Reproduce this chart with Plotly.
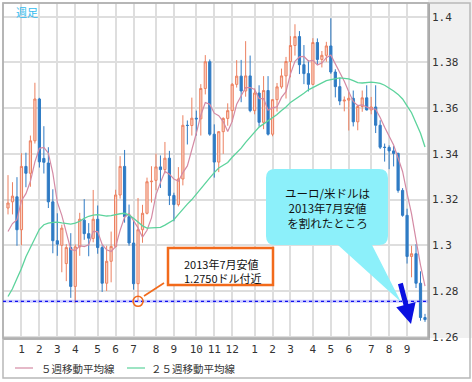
import plotly.graph_objects as go

# ---------------- data (weekly EUR/USD, Dec 2012 - Sep 2014) ----------------
week_idx = list(range(94))
opens = [1.3163, 1.3190, 1.3212, 1.3068, 1.3345, 1.3315, 1.3457, 1.3640, 1.3380, 1.3360,
         1.3190, 1.3020, 1.3000, 1.2920, 1.2990, 1.2820, 1.2993, 1.3110, 1.3051, 1.3030,
         1.3114, 1.2990, 1.2834, 1.2930, 1.2995, 1.3220, 1.3345, 1.3125, 1.3010, 1.2832,
         1.3068, 1.3140, 1.3278, 1.3284, 1.3343, 1.3331, 1.3381, 1.3218, 1.3178, 1.3290,
         1.3525, 1.3524, 1.3556, 1.3553, 1.3686, 1.3803, 1.3486, 1.3364, 1.3497, 1.3555,
         1.3589, 1.3704, 1.3740, 1.3675, 1.3741, 1.3589, 1.3666, 1.3538, 1.3677, 1.3486,
         1.3637, 1.3693, 1.3741, 1.3804, 1.3874, 1.3913, 1.3790, 1.3751, 1.3704, 1.3887,
         1.3813, 1.3831, 1.3872, 1.3758, 1.3694, 1.3631, 1.3635, 1.3643, 1.3540, 1.3607,
         1.3645, 1.3592, 1.3605, 1.3525, 1.3429, 1.3428, 1.3413, 1.3402, 1.3240, 1.3131,
         1.2951, 1.2963, 1.2834, 1.2684]
highs = [1.3307, 1.3276, 1.3298, 1.3403, 1.3405, 1.3480, 1.3711, 1.3645, 1.3521, 1.3429,
         1.3245, 1.3140, 1.3090, 1.3005, 1.3053, 1.3004, 1.3142, 1.3202, 1.3097, 1.3242,
         1.3174, 1.3000, 1.2998, 1.3060, 1.3243, 1.3390, 1.3417, 1.3178, 1.3110, 1.3207,
         1.3177, 1.3296, 1.3346, 1.3401, 1.3393, 1.3452, 1.3413, 1.3230, 1.3342, 1.3569,
         1.3546, 1.3646, 1.3589, 1.3705, 1.3832, 1.3813, 1.3529, 1.3500, 1.3560, 1.3621,
         1.3710, 1.3810, 1.3811, 1.3893, 1.3830, 1.3686, 1.3700, 1.3740, 1.3740, 1.3640,
         1.3710, 1.3773, 1.3824, 1.3915, 1.3967, 1.3937, 1.3876, 1.3810, 1.3906, 1.3905,
         1.3850, 1.3890, 1.3993, 1.3770, 1.3733, 1.3651, 1.3670, 1.3677, 1.3615, 1.3677,
         1.3700, 1.3649, 1.3700, 1.3547, 1.3445, 1.3437, 1.3434, 1.3405, 1.3250, 1.3160,
         1.2998, 1.3005, 1.2886, 1.2700]
lows = [1.3135, 1.3135, 1.2998, 1.3000, 1.3254, 1.3256, 1.3445, 1.3340, 1.3314, 1.3163,
        1.2965, 1.2954, 1.2882, 1.2843, 1.2770, 1.2748, 1.2954, 1.3024, 1.2952, 1.3013,
        1.2963, 1.2796, 1.2800, 1.2838, 1.2990, 1.3204, 1.3099, 1.2998, 1.2806, 1.2755,
        1.3011, 1.3135, 1.3187, 1.3241, 1.3251, 1.3314, 1.3176, 1.3105, 1.3170, 1.3262,
        1.3441, 1.3480, 1.3480, 1.3480, 1.3660, 1.3479, 1.3296, 1.3320, 1.3400, 1.3523,
        1.3540, 1.3690, 1.3626, 1.3650, 1.3582, 1.3573, 1.3519, 1.3508, 1.3480, 1.3477,
        1.3585, 1.3685, 1.3642, 1.3735, 1.3830, 1.3749, 1.3705, 1.3673, 1.3701, 1.3790,
        1.3778, 1.3803, 1.3750, 1.3647, 1.3613, 1.3586, 1.3502, 1.3520, 1.3503, 1.3584,
        1.3590, 1.3573, 1.3491, 1.3421, 1.3366, 1.3333, 1.3345, 1.3230, 1.3125, 1.2920,
        1.2860, 1.2813, 1.2670, 1.2665]
closes = [1.3185, 1.3215, 1.3068, 1.3345, 1.3315, 1.3457, 1.3640, 1.3365, 1.3363, 1.3190,
          1.3020, 1.3005, 1.3075, 1.2990, 1.2820, 1.2993, 1.3114, 1.3051, 1.3031, 1.3114,
          1.2990, 1.2834, 1.2930, 1.2995, 1.3220, 1.3345, 1.3125, 1.3010, 1.2832, 1.3068,
          1.3140, 1.3278, 1.3280, 1.3343, 1.3331, 1.3381, 1.3218, 1.3178, 1.3290, 1.3525,
          1.3524, 1.3556, 1.3553, 1.3686, 1.3803, 1.3486, 1.3364, 1.3497, 1.3555, 1.3589,
          1.3704, 1.3740, 1.3675, 1.3741, 1.3589, 1.3666, 1.3538, 1.3677, 1.3486, 1.3637,
          1.3693, 1.3741, 1.3804, 1.3874, 1.3913, 1.3790, 1.3751, 1.3704, 1.3887, 1.3813,
          1.3831, 1.3872, 1.3758, 1.3694, 1.3631, 1.3635, 1.3643, 1.3540, 1.3607, 1.3645,
          1.3592, 1.3605, 1.3525, 1.3429, 1.3428, 1.3413, 1.3402, 1.3240, 1.3131, 1.2951,
          1.2963, 1.2834, 1.2684, 1.2675]
ma5 = [1.3060, 1.3095, 1.3112, 1.3195, 1.3226, 1.3280, 1.3365, 1.3424, 1.3428, 1.3403,
       1.3316, 1.3189, 1.3131, 1.3056, 1.2982, 1.2977, 1.2998, 1.2994, 1.3002, 1.3061,
       1.3060, 1.3004, 1.2980, 1.2973, 1.2994, 1.3065, 1.3123, 1.3139, 1.3106, 1.3076,
       1.3035, 1.3066, 1.3120, 1.3222, 1.3274, 1.3323, 1.3311, 1.3290, 1.3280, 1.3318,
       1.3347, 1.3415, 1.3490, 1.3569, 1.3624, 1.3617, 1.3578, 1.3567, 1.3541, 1.3498,
       1.3542, 1.3617, 1.3653, 1.3690, 1.3690, 1.3682, 1.3642, 1.3642, 1.3591, 1.3601,
       1.3606, 1.3647, 1.3672, 1.3750, 1.3805, 1.3824, 1.3826, 1.3806, 1.3809, 1.3789,
       1.3797, 1.3821, 1.3832, 1.3794, 1.3757, 1.3718, 1.3672, 1.3629, 1.3611, 1.3614,
       1.3605, 1.3598, 1.3595, 1.3559, 1.3516, 1.3480, 1.3439, 1.3382, 1.3323, 1.3227,
       1.3137, 1.3024, 1.2913, 1.2821]
ma25 = [1.2776, 1.2810, 1.2855, 1.2898, 1.2950, 1.2990, 1.3035, 1.3070, 1.3090, 1.3097,
        1.3100, 1.3101, 1.3098, 1.3095, 1.3093, 1.3097, 1.3105, 1.3118, 1.3127, 1.3132,
        1.3134, 1.3131, 1.3128, 1.3130, 1.3135, 1.3138, 1.3140, 1.3132, 1.3118, 1.3102,
        1.3085, 1.3075, 1.3075, 1.3076, 1.3078, 1.3088, 1.3100, 1.3112, 1.3135, 1.3160,
        1.3180, 1.3200, 1.3225, 1.3250, 1.3275, 1.3295, 1.3318, 1.3338, 1.3350, 1.3362,
        1.3385, 1.3405, 1.3425, 1.3450, 1.3475, 1.3495, 1.3517, 1.3530, 1.3545, 1.3556,
        1.3572, 1.3590, 1.3605, 1.3625, 1.3638, 1.3650, 1.3665, 1.3680, 1.3690, 1.3700,
        1.3710, 1.3720, 1.3725, 1.3730, 1.3732, 1.3730, 1.3728, 1.3720, 1.3712, 1.3710,
        1.3713, 1.3714, 1.3712, 1.3708, 1.3700, 1.3688, 1.3675, 1.3660, 1.3640, 1.3610,
        1.3580, 1.3535, 1.3490, 1.3430]
month_tick_idx = [3, 7, 11, 15, 20, 24, 28, 33, 37, 42, 46, 50, 55, 59, 63, 68, 72, 76, 81, 85, 89]
month_tick_labels = ["1", "2", "3", "4", "5", "6", "7", "8", "9", "10", "11", "12",
                     "1", "2", "3", "4", "5", "6", "7", "8", "9"]
price_ticks = [1.26, 1.28, 1.30, 1.32, 1.34, 1.36, 1.38, 1.40]
price_tick_labels = ["1.26", "1.28", "1.3", "1.32", "1.34", "1.36", "1.38", "1.4"]
july2013_low_idx = 29
july2013_low = 1.2755

# ---------------- layout helpers (pixel -> paper) ----------------
W, H = 472, 382
L, R, T, B = 3, 428, 3, 338


def px(x):
    return (x - L) / (R - L)


def py(y):
    return (B - y) / (B - T)


JP = "Noto Sans CJK JP"

fig = go.Figure()

fig.add_trace(go.Candlestick(
    x=week_idx, open=opens, high=highs, low=lows, close=closes,
    increasing=dict(line=dict(color="#ec8060", width=1), fillcolor="#f9d2c4"),
    decreasing=dict(line=dict(color="#2f7bc4", width=1), fillcolor="#2f7bc4"),
    whiskerwidth=0, showlegend=False, hoverinfo="skip"))
fig.add_trace(go.Scatter(x=week_idx, y=ma5, mode="lines",
                         line=dict(color="#d48aa4", width=1.2), showlegend=False, hoverinfo="skip"))
fig.add_trace(go.Scatter(x=week_idx, y=ma25, mode="lines",
                         line=dict(color="#5cd39c", width=1.3), showlegend=False, hoverinfo="skip"))

shapes = []
# right column background
shapes.append(dict(type="rect", xref="paper", yref="paper", x0=px(428), x1=px(472), y0=py(338), y1=py(0),
                   fillcolor="#f0f0f0", line=dict(width=0), layer="below"))
# outer frame
shapes.append(dict(type="rect", xref="paper", yref="paper", x0=px(3), x1=px(470), y0=py(378), y1=py(3),
                   line=dict(color="#b8b8b8", width=1.5), fillcolor="rgba(0,0,0,0)", layer="above"))
# plot frame
shapes.append(dict(type="rect", xref="paper", yref="paper", x0=0, x1=1, y0=0, y1=1,
                   line=dict(color="#b0b0b0", width=1.5), fillcolor="rgba(0,0,0,0)", layer="above"))
# July 2013 low level
shapes.append(dict(type="line", xref="paper", yref="y", x0=0, x1=1, y0=july2013_low, y1=july2013_low,
                   line=dict(color="rgba(110,110,255,0.35)", width=3), layer="above"))
shapes.append(dict(type="line", xref="paper", yref="y", x0=0, x1=1, y0=july2013_low, y1=july2013_low,
                   line=dict(color="#1010ee", width=1.2, dash="dot"), layer="above"))
# orange circle at the low
shapes.append(dict(type="circle", xref="x", yref="y", xsizemode="pixel", ysizemode="pixel",
                   xanchor=july2013_low_idx, yanchor=july2013_low, x0=-5, x1=5, y0=-5, y1=5,
                   line=dict(color="#f26a1b", width=1.6), fillcolor="rgba(0,0,0,0)", layer="above"))
# connector
shapes.append(dict(type="line", xref="paper", yref="paper", x0=px(144), y0=py(296), x1=px(164), y1=py(283),
                   line=dict(color="#f26a1b", width=1.6), layer="above"))
# orange box
shapes.append(dict(type="rect", xref="paper", yref="paper", x0=px(168), x1=px(273), y0=py(285), y1=py(248),
                   line=dict(color="#f26a1b", width=2.5), fillcolor="white", layer="above"))

# cyan speech bubble
bx0, bx1, by0, by1, r = 266, 388, 169, 245, 9
pts = [
    ("M", bx0 + r, by0), ("L", bx1 - r, by0), ("Q", bx1, by0, bx1, by0 + r),
    ("L", bx1, by1 - r), ("Q", bx1, by1, bx1 - r, by1),
    ("L", 372, by1), ("L", 401, 302), ("L", 338, by1),
    ("L", bx0 + r, by1), ("Q", bx0, by1, bx0, by1 - r),
    ("L", bx0, by0 + r), ("Q", bx0, by0, bx0 + r, by0),
]
path = ""
for p in pts:
    cmd = p[0]
    coords = p[1:]
    segs = []
    for i in range(0, len(coords), 2):
        segs.append(f"{px(coords[i]):.5f},{py(coords[i + 1]):.5f}")
    path += cmd + " " + " ".join(segs) + " "
path += "Z"
shapes.append(dict(type="path", xref="paper", yref="paper", path=path,
                   fillcolor="#8cf0fa", line=dict(width=0), layer="above"))

# legend samples
shapes.append(dict(type="line", xref="paper", yref="paper", x0=px(15), x1=px(33), y0=py(368), y1=py(368),
                   line=dict(color="#d48aa4", width=1.2)))
shapes.append(dict(type="line", xref="paper", yref="paper", x0=px(127), x1=px(145), y0=py(368), y1=py(368),
                   line=dict(color="#5cd39c", width=1.2)))

annotations = []


def txt(x, y, s, size=11.5, color="#111", anchor="center", family=JP, align="center"):
    annotations.append(dict(xref="paper", yref="paper", x=px(x), y=py(y), text=s, showarrow=False,
                            xanchor=anchor, yanchor="middle", align=align,
                            font=dict(family=family, size=size, color=color)))


txt(14, 12, "週足", size=11, color="#33bbee", anchor="left")
txt(182, 271, "2013年7月安値<br>1.2750ドル付近", size=11, anchor="left", align="left")
txt(327, 208, "ユーロ/米ドルは<br>2013年7月安値<br>を割れたところ", size=11.5)
txt(39, 368, "５週移動平均線", size=10.5, color="#333", anchor="left")
txt(149, 368, "２５週移動平均線", size=10.5, color="#333", anchor="left")

# blue arrow
annotations.append(dict(xref="paper", yref="paper", x=px(411), y=py(324), ax=-11, ay=-42,
                        axref="pixel", ayref="pixel", text="", showarrow=True,
                        arrowhead=2, arrowsize=0.8, arrowwidth=5, arrowcolor="#0a10e0"))

fig.update_layout(
    width=W, height=H,
    margin=dict(l=L, r=W - R, t=T, b=H - B, pad=0),
    paper_bgcolor="white", plot_bgcolor="white",
    shapes=shapes, annotations=annotations,
    showlegend=False,
    xaxis=dict(range=[-1.115, 93.67], tickmode="array", tickvals=month_tick_idx, ticktext=month_tick_labels,
               showgrid=True, gridcolor="#dedede", gridwidth=1.5, zeroline=False,
               showline=True, linecolor="#b4b4b4", linewidth=2, ticks="",
               tickfont=dict(family="DejaVu Sans Mono", size=11, color="#333"),
               rangeslider=dict(visible=False), fixedrange=True),
    yaxis=dict(range=[1.25944, 1.40599], side="right", tickmode="array", tickvals=price_ticks,
               ticktext=price_tick_labels, showgrid=True, gridcolor="#dedede", gridwidth=1.5,
               zeroline=False, showline=True, linecolor="#a8a8a8", linewidth=1.5, ticks="",
               tickfont=dict(family="DejaVu Sans Mono", size=11, color="#333"), fixedrange=True),
)

fig.write_html("out.html", config={"displayModeBar": False},
               post_script="document.body.style.margin='0';document.body.style.padding='0';")
